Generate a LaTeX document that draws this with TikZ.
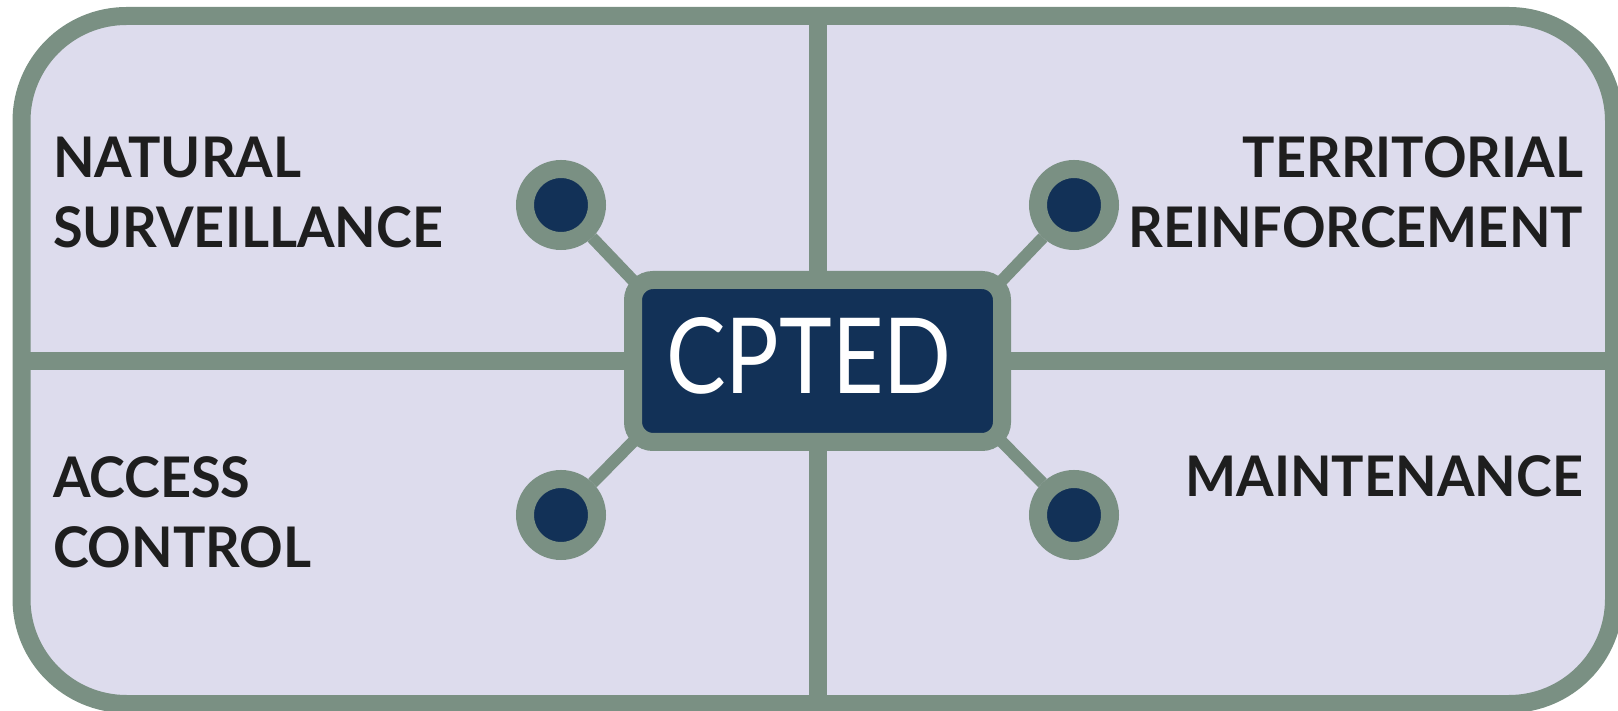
\documentclass[tikz,border=0pt]{standalone}
\usepackage{fontspec}
\setsansfont[FakeStretch=0.965]{Lato}
\newfontfamily\hubfont[FakeStretch=0.85]{Lato}
\usepackage{tikz}
\usetikzlibrary{positioning}

\definecolor{framegreen}{RGB}{122,144,131}
\definecolor{panelblue}{RGB}{221,220,237}
\definecolor{hubnavy}{RGB}{18,49,87}
\definecolor{textdark}{RGB}{30,30,30}

\begin{document}
\begin{tikzpicture}[
		x=1pt,
		y=1pt,
		/utils/exec={\sffamily},
		line width=18,
	]
		\tikzset{hub/.style={
			draw=framegreen,
			fill=hubnavy,
			rectangle,
			rounded corners=20,
			minimum width=369,
			minimum height=162,
			inner sep=0,
			text=white,
			text depth=12,
			font=\hubfont\fontsize{105pt}{105pt}\selectfont,
		}}
		\tikzset{dot/.style={
			draw=framegreen,
			fill=hubnavy,
			circle,
			minimum size=72,
			inner sep=0,
		}}
		\tikzset{spoke/.style={
			framegreen,
			line width=12,
			shorten >=-16,
		}}
		\tikzset{pillar/.style={
			inner sep=0,
			text=textdark,
			font=\fontsize{56pt}{70.5pt}\selectfont\bfseries,
		}}

		\useasboundingbox (0,0) rectangle (1618,710);
		\clip (0,0) rectangle (1618,710);

		%---------------------------------
		% Frame
		\coordinate (frameSW) at (21.5,6);
		\coordinate (frameNE) at (1614,694);
		\coordinate (midtop) at (818,694);
		\coordinate (midbottom) at (818,6);
		\coordinate (midleft) at (21.5,349);
		\coordinate (midright) at (1614,349);

		\draw[framegreen, fill=panelblue, rounded corners=105] (frameSW) rectangle (frameNE);
		\draw[framegreen] (midtop) -- (midbottom);
		\draw[framegreen] (midleft) -- (midright);

		%---------------------------------
		% Hub
		\node[hub] (cpted) at (817.5,349) {CPTED\rule{17pt}{0pt}};

		\node[dot] (dotnw) at (561,505) {};
		\node[dot] (dotne) at (1074,505) {};
		\node[dot] (dotsw) at (561,195) {};
		\node[dot] (dotse) at (1074,195) {};

		\draw[spoke] (dotnw) -- (cpted.north west);
		\draw[spoke] (dotne) -- (cpted.north east);
		\draw[spoke] (dotsw) -- (cpted.south west);
		\draw[spoke] (dotse) -- (cpted.south east);

		%---------------------------------
		% Pillars
		\node[
			pillar,
			anchor=base west,
			align=left,
		] (surveillance) at (44,462) {NATURAL\\SURVEILLANCE};
		\node[
			pillar,
			anchor=base east,
			align=right,
		] (territorial) at (1592,462) {TERRITORIAL\\REINFORCEMENT};
		\node[
			pillar,
			anchor=base west,
			align=left,
		] (access) at (44,142.5) {ACCESS\\CONTROL};
		\node[
			pillar,
			anchor=base east,
			align=right,
		] (maintenance) at (1592,213) {MAINTENANCE};
	\end{tikzpicture}
\end{document}
